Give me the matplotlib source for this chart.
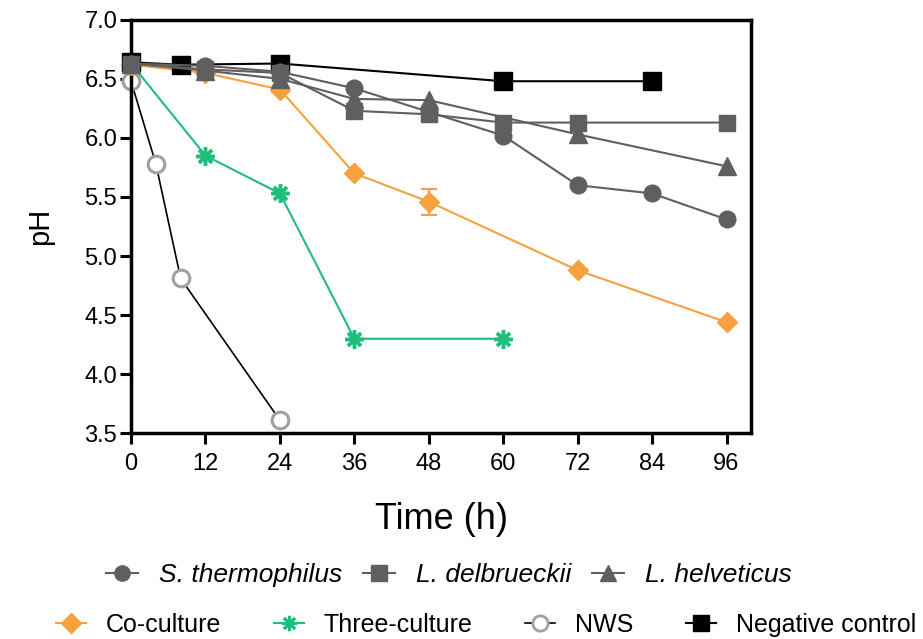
import matplotlib
matplotlib.use('Agg')
import matplotlib.pyplot as plt
from matplotlib.lines import Line2D

plt.rcParams['font.family'] = ['Liberation Sans', 'DejaVu Sans']

# datos
t_st = [0, 12, 24, 36, 48, 60, 72, 84, 96]
ph_st = [6.63, 6.61, 6.56, 6.42, 6.22, 6.02, 5.60, 5.53, 5.31]

t_ld = [0, 12, 24, 36, 48, 60, 72, 96]
ph_ld = [6.63, 6.58, 6.55, 6.23, 6.20, 6.13, 6.13, 6.13]

t_lh = [0, 12, 24, 36, 48, 72, 96]
ph_lh = [6.63, 6.57, 6.50, 6.33, 6.32, 6.03, 5.76]

t_co = [0, 12, 24, 36, 48, 72, 96]
ph_co = [6.62, 6.55, 6.41, 5.70, 5.46, 4.88, 4.44]
err_co = [0, 0, 0, 0, 0.11, 0, 0]

t_tri = [0, 12, 24, 36, 60]
ph_tri = [6.63, 5.85, 5.53, 4.30, 4.30]

t_nws = [0, 4, 8, 24]
ph_nws = [6.48, 5.78, 4.81, 3.61]

t_neg = [0, 8, 24, 60, 84]
ph_neg = [6.64, 6.62, 6.63, 6.48, 6.48]

gris = '#5f5f5f'
naranja = '#f7a040'
verde = '#1dbf7a'

fig = plt.figure(figsize=(9.23, 6.39), dpi=100)
ax = fig.add_axes([0.142, 0.322, 0.672, 0.647])

lw = 1.5
ax.plot(t_nws, ph_nws, color='black', lw=1.2, marker='o', ms=12, mfc='white',
        mec='#a0a0a0', mew=2.2, zorder=2)
ax.plot(t_tri, ph_tri, color=verde, lw=lw, marker=(8, 2, 0), ms=13, mec=verde, mew=2.5, zorder=3)
ax.errorbar(t_co, ph_co, yerr=err_co, color=naranja, lw=lw, marker='D', ms=10,
            capsize=6, elinewidth=1.5, capthick=1.5, zorder=4)
ax.plot(t_neg, ph_neg, color='black', lw=lw, marker='s', ms=13, zorder=5)
ax.plot(t_lh, ph_lh, color=gris, lw=lw, marker='^', ms=13, zorder=6)
ax.plot(t_ld, ph_ld, color=gris, lw=lw, marker='s', ms=12, zorder=6)
ax.plot(t_st, ph_st, color=gris, lw=lw, marker='o', ms=12, zorder=7)

ax.set_xlim(0, 100)
ax.set_ylim(3.5, 7.0)
ax.set_xticks(range(0, 97, 12))
ax.set_yticks([3.5, 4.0, 4.5, 5.0, 5.5, 6.0, 6.5, 7.0])
ax.set_yticklabels(['3.5', '4.0', '4.5', '5.0', '5.5', '6.0', '6.5', '7.0'])
ax.tick_params(direction='out', length=8, width=2.2, labelsize=17, pad=2)
ax.tick_params(axis='x', pad=6)
for s in ax.spines.values():
    s.set_linewidth(2.5)
for l in ax.lines:
    l.set_clip_on(False)
ax.set_xlabel('Time (h)', fontsize=26, labelpad=20)
ax.set_ylabel('pH', fontsize=21, labelpad=22)

# leyendas en dos filas
h1 = [Line2D([], [], color=gris, lw=lw, marker='o', ms=11),
      Line2D([], [], color=gris, lw=lw, marker='s', ms=11),
      Line2D([], [], color=gris, lw=lw, marker='^', ms=11)]
lab1 = ['S. thermophilus', 'L. delbrueckii', 'L. helveticus']
fig.legend(h1, lab1, loc='center left', bbox_to_anchor=(0.089, 0.10), ncol=3,
           frameon=False, prop={'size': 19, 'style': 'italic'},
           handlelength=1.2, columnspacing=0.8, handletextpad=0.8)

h2 = [Line2D([], [], color=naranja, lw=lw, marker='D', ms=10),
      Line2D([], [], color=verde, lw=lw, marker=(8, 2, 0), ms=11, mew=2),
      Line2D([], [], color='black', lw=1.2, marker='o', ms=11, mfc='white', mec='#a0a0a0', mew=2),
      Line2D([], [], color='black', lw=lw, marker='s', ms=11)]
lab2 = ['Co-culture', 'Three-culture', 'NWS', 'Negative control']
fig.legend(h2, lab2, loc='center left', bbox_to_anchor=(0.036, 0.022), ncol=4,
           frameon=False, prop={'size': 18},
           handlelength=1.2, columnspacing=2.1, handletextpad=0.8)

fig.savefig('out.png', dpi=100)
